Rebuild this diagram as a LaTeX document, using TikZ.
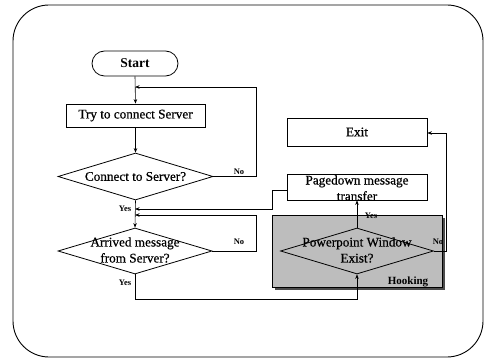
\documentclass[tikz,border=0pt]{standalone}
\usepackage{fontspec}
\setmainfont{Liberation Serif}
\newfontfamily\heavyserif[FakeBold=0.6]{Liberation Serif}
\usetikzlibrary{shapes.geometric,shapes.misc,arrows.meta}

\tikzset{
  frame/.style={draw=black, line width=0.9pt, rounded corners=36pt},
  procbox/.style={draw=black, line width=0.8pt, fill=white, rectangle, inner sep=0pt,
    font=\heavyserif\fontsize{13.2}{16}\selectfont, align=center},
  pill/.style={draw=black, line width=0.8pt, rounded rectangle, inner sep=0pt,
    font=\fontsize{13.5}{16}\selectfont\bfseries},
  decision/.style={draw=black, line width=0.8pt, diamond, inner sep=0pt},
  dtext/.style={font=\heavyserif\fontsize{13.2}{16}\selectfont, align=center, inner sep=0pt},
  tag/.style={font=\fontsize{8.5}{10}\selectfont\bfseries, inner sep=0pt},
  flow/.style={draw=black, line width=0.6pt, -{Stealth[length=4.5pt,width=3.5pt]}},
}

\begin{document}
\begin{tikzpicture}[x=1pt, y=-1pt]
  \useasboundingbox (0,0) rectangle (484,358);

  % outer frame
  \draw[frame] (13,5) rectangle (483,357);

  % shaded hooking area with its shadow
  \fill[black!70] (274.5,217.5) rectangle (444.5,289.5);
  \draw[fill=black!26, line width=0.5pt] (272,215) rectangle (442,287);
  \node[tag, font=\fontsize{11}{12}\selectfont\bfseries] (hooklbl) at (408,282) {Hooking};

  % flow nodes
  \node[pill, minimum width=86pt, minimum height=25pt] (start) at (135,63.5) {Start};
  \node[procbox, minimum width=139pt, minimum height=23pt] (try) at (135.5,115.5) {Try to connect Server};

  \node[decision, minimum width=155pt, minimum height=47pt] (d1) at (135.5,176.5) {};
  \node[dtext] (d1t) at (d1) {Connect to Server?};

  \node[decision, minimum width=154pt, minimum height=46pt] (d2) at (135,251) {};
  \node[dtext] (d2t) at (135,250) {Arrived message\\from Server?};

  \node[procbox, minimum width=140pt, minimum height=28pt] (exit) at (357,132) {Exit};
  \node[procbox, minimum width=140pt, minimum height=26pt] (page) at (357,187) {};
  \node[dtext] (paget) at (357,188) {Pagedown message\\transfer};

  \node[decision, minimum width=153pt, minimum height=46pt] (d3) at (357,251) {};
  \node[dtext] (d3t) at (357,250) {Powerpoint Window\\Exist?};

  % helper points for the connectors
  \coordinate (m1) at (135,87);
  \coordinate (m2) at (135,209);
  \coordinate (m3) at (135,215);

  % main line
  \draw[flow] (start.south) -- (try.north);
  \draw[flow] (try.south) -- (d1.north);
  \draw[flow] (d1.south) -- (d2.north);

  % retry loop
  \draw[flow] (d1.east) -- (256,176.5) -- (256,87) -- (m1);
  \node[tag] (no1) at (239,172) {No};
  \node[tag] (yes1) at (125,209) {Yes};

  % wait loop
  \draw[flow] (d2.east) -- (256,251) -- (256,215) -- (m3);
  \node[tag] (no2) at (239,242) {No};
  \node[tag] (yes2) at (125,283) {Yes};

  % back from the pagedown transfer
  \draw[flow] (page.west |- 0,190) -- (272,190) -- (272,209) -- (m2);

  % on to the window check
  \draw[flow] (d2.south) -- (135,299) -- (357,299) -- (d3.south);
  \draw[flow] (d3.north) -- (page.south);
  \node[tag] (yes3) at (371,216) {Yes};
  \draw[flow] (d3.east) -- (446,251) -- (446,133) -- (exit.east |- 0,133);
  \node[tag] (no3) at (438,242) {No};
\end{tikzpicture}
\end{document}
